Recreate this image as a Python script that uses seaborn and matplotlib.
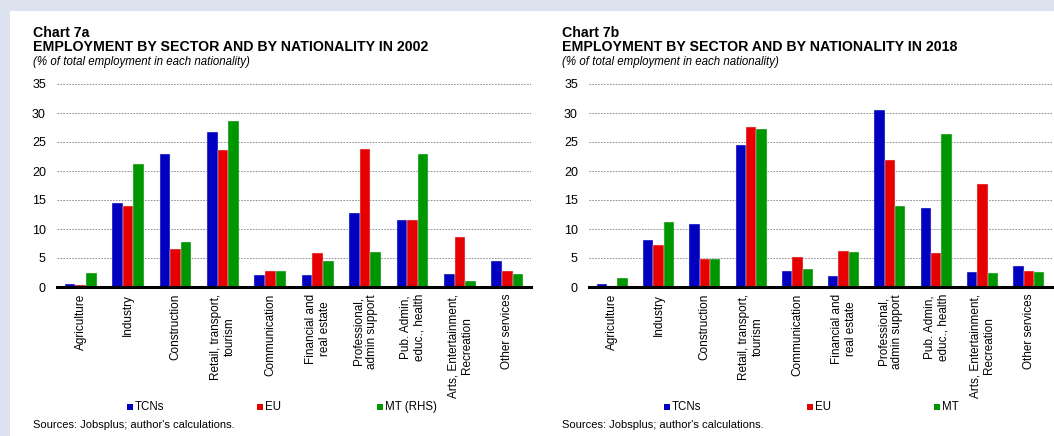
import matplotlib
matplotlib.use("Agg")
import matplotlib.pyplot as plt
from matplotlib.patches import Rectangle
import seaborn as sns
import pandas as pd

sectors = ["Agriculture", "Industry", "Construction", "Retail, transport,\ntourism",
           "Communication", "Financial and\nreal estate", "Professional,\nadmin support",
           "Pub. Admin,\neduc., health", "Arts, Entertainment,\nRecreation", "Other services"]

tcn_2002 = [0.45, 14.5, 23.0, 26.8, 2.0, 2.1, 12.7, 11.6, 2.2, 4.5]
eu_2002 = [0.3, 14.0, 6.5, 23.6, 2.7, 5.8, 23.8, 11.6, 8.7, 2.8]
mt_2002 = [2.35, 21.2, 7.7, 28.7, 2.8, 4.4, 6.1, 22.9, 1.0, 2.2]

tcn_2018 = [0.6, 8.1, 10.9, 24.5, 2.7, 1.95, 30.6, 13.7, 2.6, 3.55]
eu_2018 = [0.2, 7.2, 4.8, 27.6, 5.2, 6.2, 21.9, 5.8, 17.8, 2.7]
mt_2018 = [1.55, 11.2, 4.8, 27.25, 3.15, 6.0, 13.9, 26.4, 2.4, 2.6]

yticks = [0, 5, 10, 15, 20, 25, 30, 35]
colors = ["#0000C0", "#E60000", "#009600"]

FONT = "Liberation Sans"
plt.rcParams["font.family"] = [FONT, "DejaVu Sans"]

fig = plt.figure(figsize=(10.54, 4.36), dpi=100)
fig.patch.set_facecolor("#DCE3EF")
fig.patches.append(Rectangle((10 / 1054, 0), 1, 1 - 11 / 436, transform=fig.transFigure,
                             facecolor="white", edgecolor="none", zorder=-10))

W, H = 1054, 436


def make_df(t, e, m, labels):
    rows = []
    for s, a, b, c in zip(sectors, t, e, m):
        rows.append((s, labels[0], a))
        rows.append((s, labels[1], b))
        rows.append((s, labels[2], c))
    return pd.DataFrame(rows, columns=["sector", "nat", "value"])


panels = [
    dict(left=57, right=531, chart="Chart 7a", title="EMPLOYMENT BY SECTOR AND BY NATIONALITY IN 2002",
         data=(tcn_2002, eu_2002, mt_2002), labels=["TCNs", "EU", "MT (RHS)"], tx=33,
         legx=[128, 258, 378]),
    dict(left=589, right=1052, chart="Chart 7b", title="EMPLOYMENT BY SECTOR AND BY NATIONALITY IN 2018",
         data=(tcn_2018, eu_2018, mt_2018), labels=["TCNs", "EU", "MT"], tx=562,
         legx=[665, 808, 935]),
]

top, bottom = 84, 287
for p in panels:
    ax = fig.add_axes([p["left"] / W, 1 - bottom / H, (p["right"] - p["left"]) / W, (bottom - top) / H])
    ax.patch.set_alpha(0)
    df = make_df(*p["data"], p["labels"])
    sns.barplot(data=df, x="sector", y="value", hue="nat", palette=colors, width=0.67,
                saturation=1, edgecolor="#e8e8f0", linewidth=0.3, ax=ax, legend=False, zorder=3)
    ax.set_ylim(0, 35)
    ax.set_yticks(yticks)
    ax.set_xlim(-0.5, len(sectors) - 0.5)
    ax.grid(axis="y", linestyle=(0, (2, 1.5)), color="#808080", linewidth=0.6, zorder=0)
    ax.set_axisbelow(True)
    for s in ["left", "right", "top"]:
        ax.spines[s].set_visible(False)
    ax.spines["bottom"].set_linewidth(2.2)
    ax.spines["bottom"].set_color("black")
    ax.spines["bottom"].set_zorder(5)
    ax.tick_params(axis="y", length=0, labelsize=9, pad=8)
    ax.tick_params(axis="x", length=0, labelsize=8.5, pad=5)
    ax.set_xticks(range(len(sectors)))
    ax.set_xticklabels(sectors, rotation=90, ha="center", va="top", multialignment="center")
    ax.set_xlabel("")
    ax.set_ylabel("")

    fig.text(p["tx"] / W, 1 - 33 / H, p["chart"], fontsize=10.2, fontweight="bold", va="center", ha="left")
    fig.text(p["tx"] / W, 1 - 47 / H, p["title"], fontsize=10.2, fontweight="bold", va="center", ha="left")
    fig.text(p["tx"] / W, 1 - 62 / H, "(% of total employment in each nationality)", fontsize=8.3,
             fontstyle="italic", va="center", ha="left")
    fig.text(p["tx"] / W, 1 - 425 / H, "Sources: Jobsplus; author's calculations.", fontsize=8,
             va="center", ha="left")

    for lx, lab, col in zip(p["legx"], p["labels"], colors):
        fig.patches.append(Rectangle(((lx - 1) / W, 1 - 410 / H), 6 / W, 6 / H, transform=fig.transFigure,
                                     facecolor=col, edgecolor="none", zorder=3))
        fig.text((lx + 7) / W, 1 - 407 / H, lab, fontsize=8.3, va="center", ha="left")

fig.savefig("out.png", dpi=100, facecolor=fig.get_facecolor())
